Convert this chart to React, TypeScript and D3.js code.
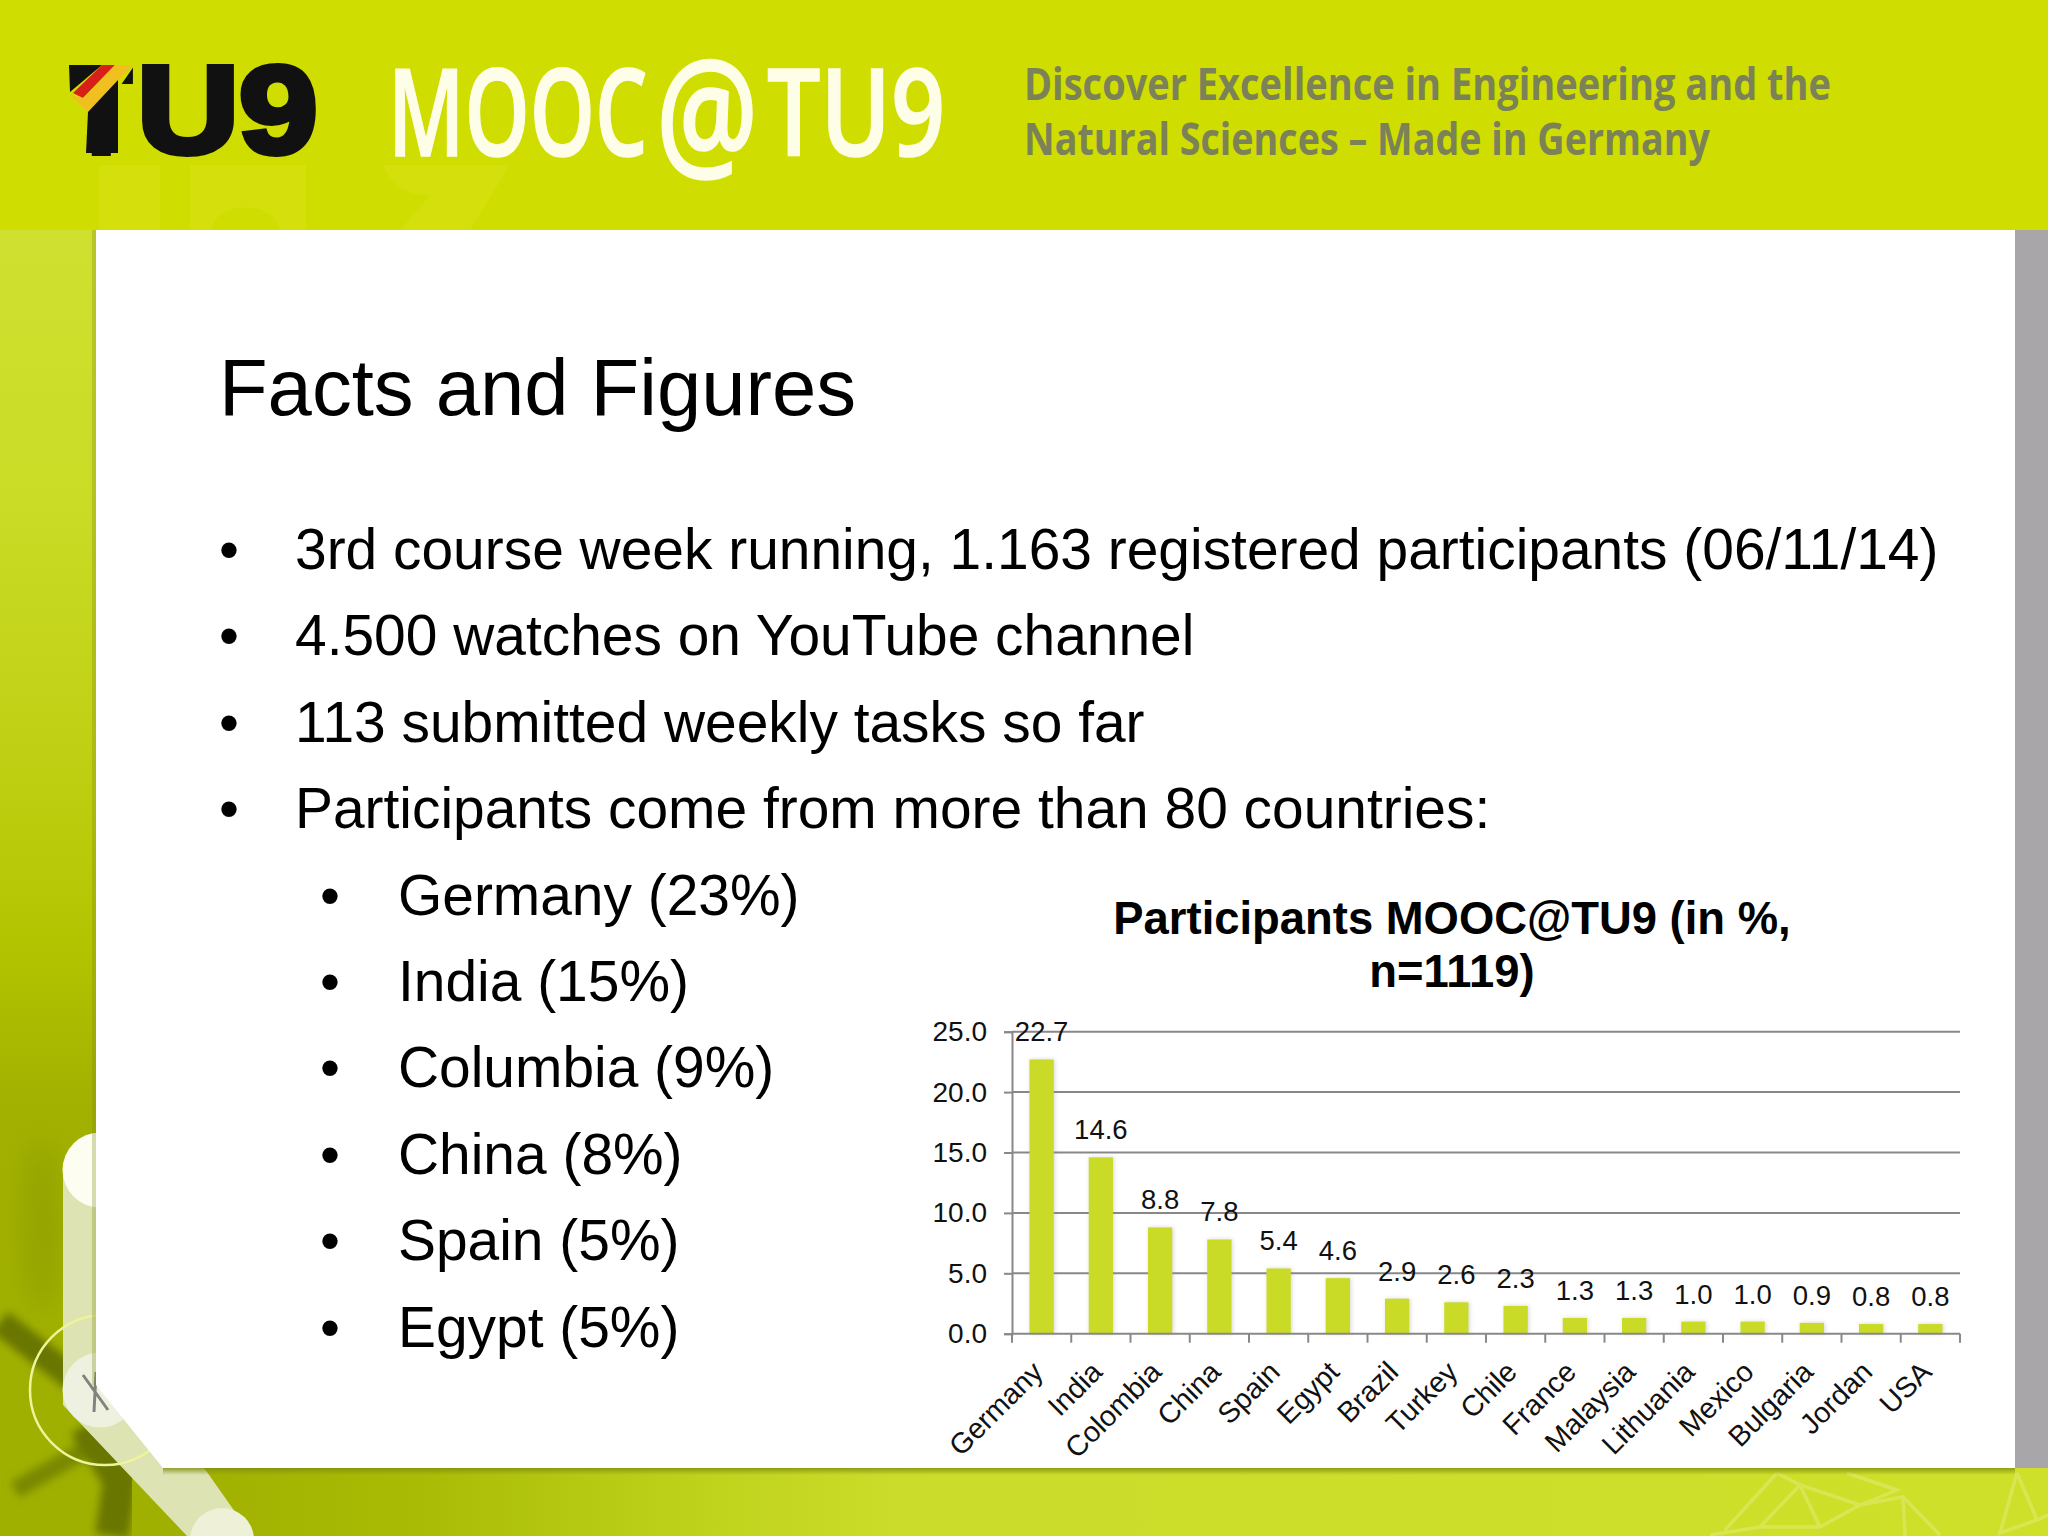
import React, { useRef, useEffect } from 'react';
import * as d3 from 'd3';

const countries = ['Germany', 'India', 'Colombia', 'China', 'Spain', 'Egypt', 'Brazil', 'Turkey', 'Chile', 'France', 'Malaysia', 'Lithuania', 'Mexico', 'Bulgaria', 'Jordan', 'USA'];
const shares = [22.7, 14.6, 8.8, 7.8, 5.4, 4.6, 2.9, 2.6, 2.3, 1.3, 1.3, 1.0, 1.0, 0.9, 0.8, 0.8];
const shareTicks = [0, 5, 10, 15, 20, 25];
const chartTitle = ['Participants MOOC@TU9 (in %,', 'n=1119)'];
const bullets = [
  '3rd course week running, 1.163 registered participants (06/11/14)',
  '4.500 watches on YouTube channel',
  '113 submitted weekly tasks so far',
  'Participants come from more than 80 countries:',
];
const subBullets = ['Germany (23%)', 'India (15%)', 'Columbia (9%)', 'China (8%)', 'Spain (5%)', 'Egypt (5%)'];
const tagline = ['Discover Excellence in Engineering and the', 'Natural Sciences – Made in Germany'];

const SANS = '"Liberation Sans", Arial, sans-serif';
const OPEN = '"Open Sans", sans-serif';
const chartBox = { left: 1012, right: 1960, top: 1031.7, bottom: 1333.7 };

function Chart(): React.ReactElement {
  const ref = useRef<SVGGElement | null>(null);

  useEffect(() => {
    const g = d3.select(ref.current);
    g.selectAll('*').remove();

    const x = d3.scaleBand<string>()
      .domain(countries)
      .range([chartBox.left, chartBox.right])
      .paddingInner(0.59)
      .paddingOuter(0.295);
    const y = d3.scaleLinear().domain([0, 25]).range([chartBox.bottom, chartBox.top]);

    // gridlines sit behind the bars
    g.append('g')
      .selectAll('line')
      .data(shareTicks.filter((t) => t > 0))
      .enter()
      .append('line')
      .attr('x1', chartBox.left)
      .attr('x2', chartBox.right)
      .attr('y1', (d) => y(d))
      .attr('y2', (d) => y(d))
      .attr('stroke', '#888')
      .attr('stroke-width', 2);

    const yAxis = g.append('g')
      .attr('transform', `translate(${chartBox.left},0)`)
      .call(d3.axisLeft(y).tickValues(shareTicks).tickFormat((d) => d3.format('.1f')(d as number)).tickSize(8).tickPadding(17));
    yAxis.selectAll('line').attr('stroke', '#888').attr('stroke-width', 2);
    yAxis.select('.domain').attr('stroke', '#888').attr('stroke-width', 2);
    yAxis.selectAll('text').attr('font-family', SANS).attr('font-size', 28).attr('fill', '#111');

    // category ticks fall on the band edges, so the labels are placed by hand
    const edges = [...countries.map((c) => (x(c) as number) - (x.step() - x.bandwidth()) / 2), chartBox.right];
    g.append('g')
      .selectAll('line')
      .data(edges)
      .enter()
      .append('line')
      .attr('x1', (d) => d)
      .attr('x2', (d) => d)
      .attr('y1', chartBox.bottom)
      .attr('y2', chartBox.bottom + 9)
      .attr('stroke', '#888')
      .attr('stroke-width', 2);

    g.append('g')
      .attr('filter', 'url(#barShadow)')
      .selectAll('rect')
      .data(countries)
      .enter()
      .append('rect')
      .attr('x', (d) => x(d) as number)
      .attr('width', x.bandwidth())
      .attr('y', (d, i) => y(shares[i]))
      .attr('height', (d, i) => chartBox.bottom - y(shares[i]))
      .attr('fill', '#c9db25');

    g.append('line')
      .attr('x1', chartBox.left)
      .attr('x2', chartBox.right)
      .attr('y1', chartBox.bottom)
      .attr('y2', chartBox.bottom)
      .attr('stroke', '#888')
      .attr('stroke-width', 2);

    g.append('g')
      .selectAll('text')
      .data(shares)
      .enter()
      .append('text')
      .attr('x', (d, i) => (x(countries[i]) as number) + x.bandwidth() / 2)
      .attr('y', (d) => y(d) - 18)
      .attr('text-anchor', 'middle')
      .attr('font-family', SANS)
      .attr('font-size', 27.5)
      .attr('fill', '#111')
      .text((d) => d.toFixed(1));

    g.append('g')
      .selectAll('text')
      .data(countries)
      .enter()
      .append('text')
      .attr('transform', (d) => `translate(${(x(d) as number) + x.bandwidth() / 2 + 3},${chartBox.bottom + 40}) rotate(-45)`)
      .attr('text-anchor', 'end')
      .attr('font-family', SANS)
      .attr('font-size', 28.8)
      .attr('fill', '#111')
      .text((d) => d);

    g.append('g')
      .selectAll('text')
      .data(chartTitle)
      .enter()
      .append('text')
      .attr('x', 1452)
      .attr('y', (d, i) => 934 + i * 53)
      .attr('text-anchor', 'middle')
      .attr('font-family', SANS)
      .attr('font-weight', 700)
      .attr('font-size', 45.4)
      .attr('fill', '#000')
      .text((d) => d);
  }, []);

  return <g ref={ref} />;
}

function Backdrop(): React.ReactElement {
  return (
    <g>
      <defs>
        <linearGradient id="sideFade" x1="0" y1="0" x2="0" y2="1">
          <stop offset="0" stopColor="#d0e030" />
          <stop offset="0.2" stopColor="#cadc26" />
          <stop offset="0.4" stopColor="#bfd014" />
          <stop offset="0.55" stopColor="#b2c400" />
          <stop offset="0.67" stopColor="#a2b000" />
          <stop offset="1" stopColor="#9fb000" />
        </linearGradient>
        <linearGradient id="footFade" x1="0" y1="0" x2="1" y2="0">
          <stop offset="0.09" stopColor="#a0b000" />
          <stop offset="0.21" stopColor="#aabc05" />
          <stop offset="0.32" stopColor="#bccf18" />
          <stop offset="0.44" stopColor="#cbdd2a" />
          <stop offset="1" stopColor="#cfe02a" />
        </linearGradient>
        <linearGradient id="footEdge" x1="0" y1="0" x2="0" y2="1">
          <stop offset="0" stopColor="#7f8c10" stopOpacity={0.8} />
          <stop offset="1" stopColor="#7f8c10" stopOpacity={0} />
        </linearGradient>
        <filter id="soft"><feGaussianBlur stdDeviation="4" /></filter>
        <filter id="wide" x="-100%" y="-50%" width="300%" height="200%"><feGaussianBlur stdDeviation="14" /></filter>
        <filter id="barShadow" x="-30%" y="-5%" width="160%" height="110%">
          <feDropShadow dx="1" dy="0" stdDeviation="2" floodColor="#888" floodOpacity={0.35} />
        </filter>
        <clipPath id="headerClip"><rect x={0} y={0} width={2048} height={230} /></clipPath>
      </defs>
      <rect x={0} y={230} width={2048} height={1306} fill="url(#sideFade)" />
      <rect x={0} y={1468} width={2048} height={68} fill="url(#footFade)" />

      <ellipse cx={42} cy={1225} rx={18} ry={85} fill="#7c8a00" opacity={0.35} filter="url(#wide)" />
      <g fill="none" stroke="#697600" strokeWidth={26} filter="url(#soft)">
        <path d="M0,1322 L75,1380" />
        <path d="M85,1425 L120,1480 L112,1536" strokeWidth={34} />
        <path d="M15,1490 L85,1450" strokeWidth={18} opacity={0.7} />
      </g>
      <path d="M1710,1535 L1760,1527 L1820,1527 L1860,1505 L1903,1497 L1940,1535 M1760,1527 L1800,1485 L1820,1527 M1777,1473 L1800,1485 L1860,1505 M1847,1473 L1897,1490 L1860,1505 M1903,1497 L1905,1536 M1777,1473 L1725,1530 M2017,1473 L2000,1533 L2037,1520 L2017,1473 M2037,1520 L2048,1515" fill="none" stroke="#dce860" strokeWidth={3.5} opacity={0.75} />

      <path d="M63,1170 L63,1405 L187,1536 L252,1536 L207,1472 L100,1350 L100,1170 Z" fill="#dde3b2" />
      <circle cx={100} cy={1170} r={37.5} fill="#fdfdf2" />
      <circle cx={100} cy={1390} r={37.5} fill="#eef0e0" />
      <circle cx={222} cy={1540} r={32} fill="#eef0d8" />
      <path d="M83,1375 L108,1410 M96,1372 L94,1412" stroke="#555" strokeWidth={3} opacity={0.7} />
      <circle cx={105} cy={1390} r={75} fill="none" stroke="#eef49a" strokeWidth={2.5} />

      <rect x={92} y={230} width={4} height={1155} fill="#7f8c10" opacity={0.3} />
      <path d="M96,230 H2015 V1468 H163 L96,1385 Z" fill="#fff" />
      <rect x={163} y={1468} width={1852} height={7} fill="url(#footEdge)" />
      <rect x={2015} y={230} width={33} height={1238} fill="#a8a6a8" />
      <rect x={0} y={0} width={2048} height={230} fill="#d0dd00" />

      <path d="M99,165 H160 V230 H99 Z M190,165 H306 V230 H280 C275,200 215,200 212,230 H190 Z M383,165 H510 L470,230 H400 L430,195 C400,195 390,180 383,165 Z" fill="#d4df0c" clipPath="url(#headerClip)" />
    </g>
  );
}

function Masthead(): React.ReactElement {
  return (
    <g>
      <text transform="translate(71,153) scale(0.8,1)" fontFamily={SANS} fontWeight={700} fontSize={124} fill="#111" stroke="#111" strokeWidth={6}>T</text>
      <text transform="translate(137,153) scale(1.14,1)" fontFamily={SANS} fontWeight={700} fontSize={124} fill="#111" stroke="#111" strokeWidth={6}>U9</text>
      <path d="M60,60 H134 V66 L134,66 L90,130 L60,130 Z" fill="#d0dd00" />
      <path d="M69,65 H102 L70,92 Z" fill="#111" />
      <path d="M102,65 H115 L83,98 L73,93 Z" fill="#d8201a" />
      <path d="M115,65 H133 L88,112 L70,95 L83,98 Z" fill="#f0c020" />
      <path d="M88,112 L118,80 V153 H86 Z" fill="#111" />
      <g fontFamily={OPEN} fontWeight={600} fill="#fdfde8" stroke="#fdfde8" strokeWidth={1.5}>
        <text transform="translate(388,156) scale(0.68,1)" fontSize={122}>MOOC</text>
        <text transform="translate(656,167) scale(0.76,1)" fontSize={150}>@</text>
        <text transform="translate(767,156) scale(0.777,1)" fontSize={122}>TU9</text>
      </g>
      {tagline.map((line, i) => (
        <text key={line} x={1024} y={100 + i * 55} fontFamily={OPEN} fontWeight={700} fontSize={45} fill="#7b8258" textLength={i === 0 ? 807 : 686} lengthAdjust="spacingAndGlyphs">{line}</text>
      ))}
    </g>
  );
}

function SlideText(): React.ReactElement {
  const lineY = d3.scaleLinear().domain([0, 1]).range([569, 655.4]);
  return (
    <g fontFamily={SANS} fill="#000">
      <text x={219} y={415} fontSize={79.6}>Facts and Figures</text>
      {bullets.map((line, i) => (
        <g key={line} fontSize={56.9}>
          <text x={219} y={lineY(i)}>•</text>
          <text x={295} y={lineY(i)}>{line}</text>
        </g>
      ))}
      {subBullets.map((line, i) => (
        <g key={line} fontSize={56.9}>
          <text x={320} y={lineY(i + bullets.length)}>•</text>
          <text x={398} y={lineY(i + bullets.length)}>{line}</text>
        </g>
      ))}
    </g>
  );
}

export default function App(): React.ReactElement {
  useEffect(() => {
    document.body.style.margin = '0';
  }, []);
  return (
    <svg width={2048} height={1536} style={{ display: 'block', position: 'absolute', left: 0, top: 0 }}>
      <Backdrop />
      <Masthead />
      <SlideText />
      <Chart />
    </svg>
  );
}
